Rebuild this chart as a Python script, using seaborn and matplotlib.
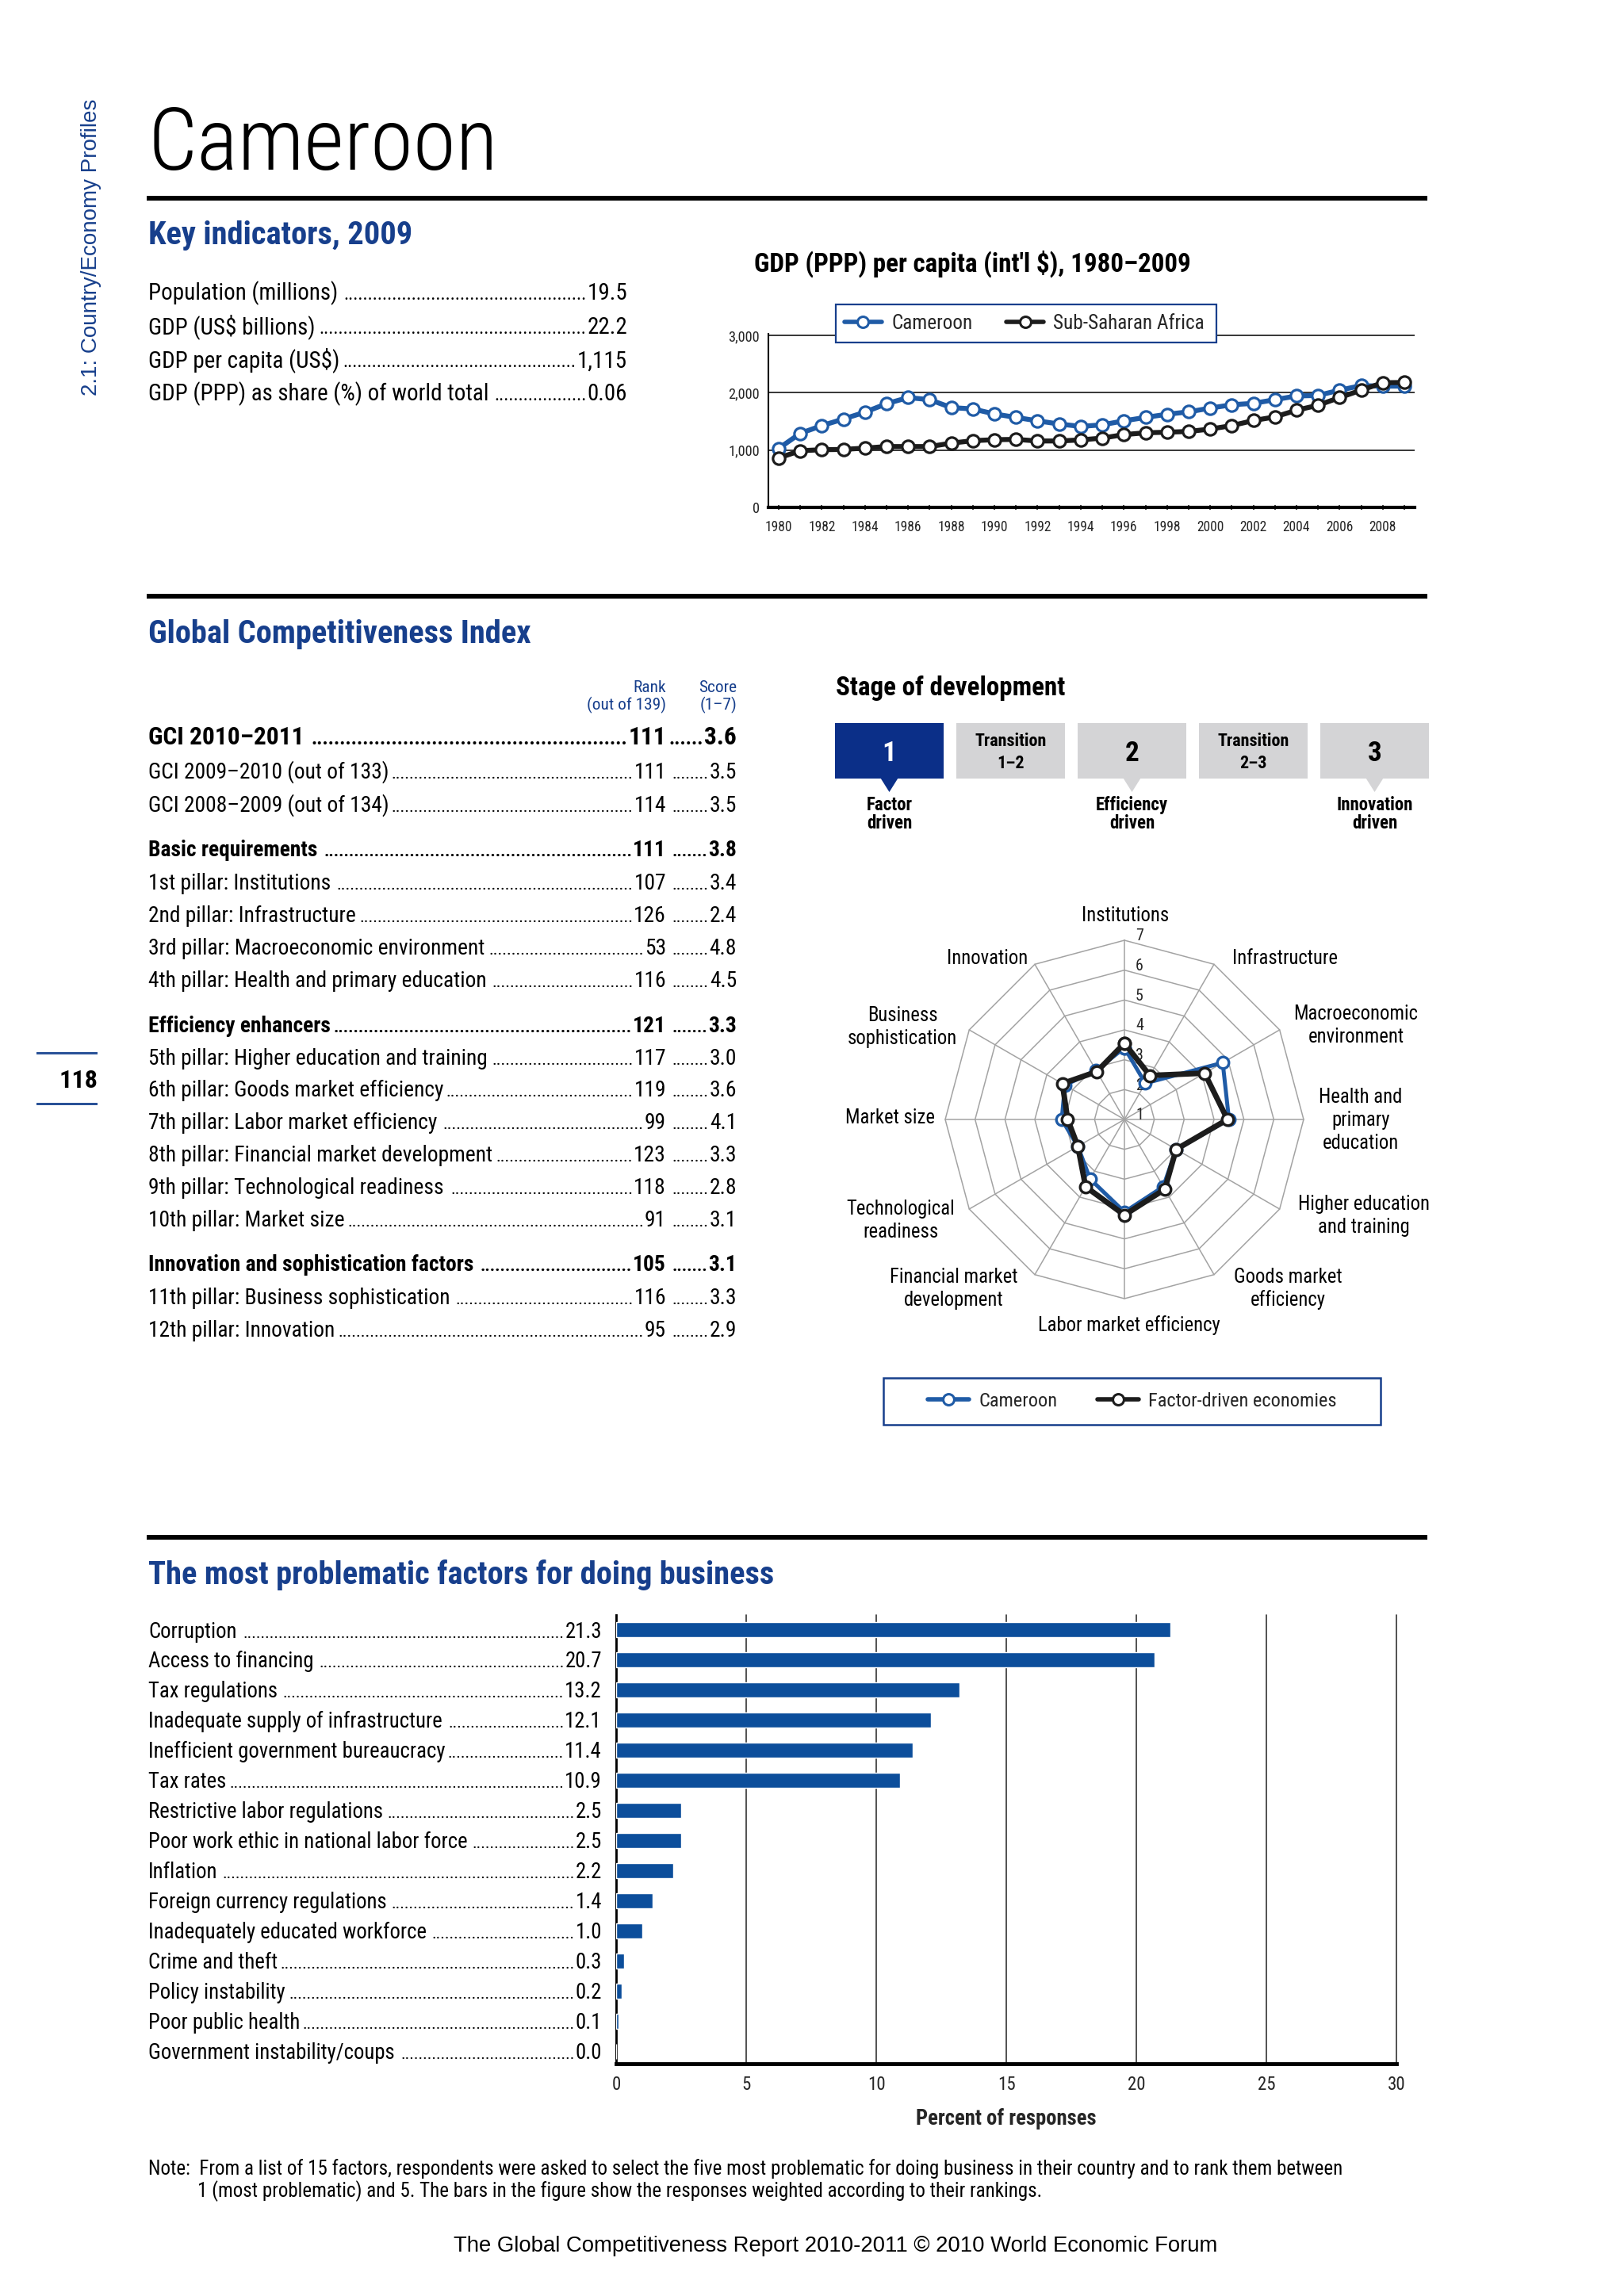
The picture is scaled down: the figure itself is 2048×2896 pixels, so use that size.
import numpy as np
import pandas as pd
import matplotlib
matplotlib.use("Agg")
import matplotlib.pyplot as plt
import seaborn as sns
from matplotlib import font_manager as fm
from matplotlib.patches import Rectangle, Polygon
from matplotlib.lines import Line2D

# ---------------------------------------------------------------- data
country = "Cameroon"
side_caption = "2.1: Country/Economy Profiles"
page_number = "118"

ki_title = "Key indicators, 2009"
ki_labels = ["Population (millions)", "GDP (US$ billions)", "GDP per capita (US$)",
             "GDP (PPP) as share (%) of world total"]
ki_values = ["19.5", "22.2", "1,115", "0.06"]

gdp_title = "GDP (PPP) per capita (int'l $), 1980\u20132009"
gdp_years = list(range(1980, 2010))
gdp_cameroon = [1029, 1292, 1426, 1541, 1661, 1809, 1915, 1878, 1740, 1717,
                1629, 1569, 1509, 1454, 1412, 1440, 1509, 1569, 1624, 1666,
                1731, 1790, 1814, 1878, 1943, 1952, 2044, 2123, 2114, 2115]
gdp_ssa = [863, 988, 1006, 1011, 1034, 1061, 1061, 1061, 1121, 1163,
           1181, 1186, 1158, 1158, 1177, 1209, 1269, 1301, 1311, 1324,
           1366, 1426, 1514, 1578, 1694, 1781, 1915, 2044, 2174, 2178]
gdp_series = ["Cameroon", "Sub-Saharan Africa"]
gdp_yticks = [0, 1000, 2000, 3000]
gdp_yticklabels = ["0", "1,000", "2,000", "3,000"]

gci_title = "Global Competitiveness Index"
gci_head_rank = ["Rank", "(out of 139)"]
gci_head_score = ["Score", "(1\u20137)"]
gci_labels = ["GCI 2010\u20132011", "GCI 2009\u20132010 (out of 133)", "GCI 2008\u20132009 (out of 134)",
              "Basic requirements", "1st pillar: Institutions", "2nd pillar: Infrastructure",
              "3rd pillar: Macroeconomic environment", "4th pillar: Health and primary education",
              "Efficiency enhancers", "5th pillar: Higher education and training",
              "6th pillar: Goods market efficiency", "7th pillar: Labor market efficiency",
              "8th pillar: Financial market development", "9th pillar: Technological readiness",
              "10th pillar: Market size",
              "Innovation and sophistication factors", "11th pillar: Business sophistication",
              "12th pillar: Innovation"]
gci_ranks = ["111", "111", "114", "111", "107", "126", "53", "116", "121", "117", "119",
             "99", "123", "118", "91", "105", "116", "95"]
gci_scores = ["3.6", "3.5", "3.5", "3.8", "3.4", "2.4", "4.8", "4.5", "3.3", "3.0", "3.6",
              "4.1", "3.3", "2.8", "3.1", "3.1", "3.3", "2.9"]
gci_kind = ["top", "row", "row", "bold", "row", "row", "row", "row", "bold", "row", "row",
            "row", "row", "row", "row", "bold", "row", "row"]

stage_title = "Stage of development"
stage_box_text = [["1"], ["Transition", "1\u20132"], ["2"], ["Transition", "2\u20133"], ["3"]]
stage_captions = [["Factor", "driven"], [], ["Efficiency", "driven"], [], ["Innovation", "driven"]]
current_stage = 0

pillars = [["Institutions"], ["Infrastructure"], ["Macroeconomic", "environment"],
           ["Health and", "primary", "education"], ["Higher education", "and training"],
           ["Goods market", "efficiency"], ["Labor market efficiency"],
           ["Financial market", "development"], ["Technological", "readiness"],
           ["Market size"], ["Business", "sophistication"], ["Innovation"]]
cameroon_scores = [3.4, 2.4, 4.8, 4.5, 3.0, 3.6, 4.1, 3.3, 2.8, 3.1, 3.3, 2.9]
factor_scores = [3.55, 2.7, 4.1, 4.45, 3.0, 3.7, 4.2, 3.6, 2.8, 2.9, 3.4, 2.85]
radar_series = ["Cameroon", "Factor-driven economies"]
radar_ticks = [1, 2, 3, 4, 5, 6, 7]

bar_title = "The most problematic factors for doing business"
factor_labels = ["Corruption", "Access to financing", "Tax regulations",
                 "Inadequate supply of infrastructure", "Inefficient government bureaucracy",
                 "Tax rates", "Restrictive labor regulations", "Poor work ethic in national labor force",
                 "Inflation", "Foreign currency regulations", "Inadequately educated workforce",
                 "Crime and theft", "Policy instability", "Poor public health",
                 "Government instability/coups"]
factor_values = [21.3, 20.7, 13.2, 12.1, 11.4, 10.9, 2.5, 2.5, 2.2, 1.4, 1.0, 0.3, 0.2, 0.1, 0.0]
factor_value_text = ["21.3", "20.7", "13.2", "12.1", "11.4", "10.9", "2.5", "2.5", "2.2", "1.4",
                     "1.0", "0.3", "0.2", "0.1", "0.0"]
bar_ticks = [0, 5, 10, 15, 20, 25, 30]
bar_xlabel = "Percent of responses"

note_lines = ["Note:  From a list of 15 factors, respondents were asked to select the five most problematic "
              "for doing business in their country and to rank them between",
              "1 (most problematic) and 5. The bars in the figure show the responses weighted "
              "according to their rankings."]
footer = "The Global Competitiveness Report 2010-2011 \u00a9 2010 World Economic Forum"

# ---------------------------------------------------------------- style
sns.set_style("white")
names = {f.name for f in fm.fontManager.ttflist}
COND = None
for pref in ["Liberation Sans Narrow", "Roboto Condensed", "Open Sans Condensed",
             "Noto Sans Condensed", "DejaVu Sans Condensed", "Arial Narrow"]:
    if pref in names:
        COND = (pref, "normal")
        break
if COND is None:
    for f in fm.fontManager.ttflist:
        if str(f.stretch) in ("condensed", "semi-condensed") and f.name in (
                "Noto Sans", "Roboto", "Open Sans", "DejaVu Sans", "Lato", "Inter"):
            COND = (f.name, str(f.stretch))
            break
if COND is not None:
    BODY = [COND[0], "DejaVu Sans"]
    STRETCH = COND[1]
    K = 1.1
    TITLE_SIZE = 79
else:
    BODY = ["Liberation Sans", "DejaVu Sans"]
    STRETCH = "normal"
    K = 1.0
    TITLE_SIZE = 72
REG = ["Liberation Sans", "DejaVu Sans"]
plt.rcParams["font.family"] = BODY
plt.rcParams["font.stretch"] = STRETCH

BLUE_TXT = "#173f8c"
BLUE_LINE = "#1f5ba6"
NAVY = "#0b2f88"
BAR = "#0c4e9b"
BOXGRAY = "#d4d4d6"
GRID = "#a3a3a3"
DARK = "#1c1c1c"
P = 100 / 72.0

W, H = 2048, 2896
fig = plt.figure(figsize=(W / 100, H / 100), dpi=100)
fig.patch.set_facecolor("white")
pg = fig.add_axes([0, 0, 1, 1])
pg.set_xlim(0, W)
pg.set_ylim(H, 0)
pg.axis("off")
renderer = fig.canvas.get_renderer()


def fax(x0, y0, x1, y1):
    return fig.add_axes([x0 / W, 1 - y1 / H, (x1 - x0) / W, (y1 - y0) / H])


def txt(x, y, s, size, weight="normal", color="black", ha="left", va="baseline", family=None, **kw):
    if family is None:
        family = BODY
        kw.setdefault("fontstretch", STRETCH)
    return pg.text(x, y, s, fontsize=size, fontweight=weight, color=color, ha=ha, va=va,
                   family=family, **kw)


def ctext(x, yc, s, size, **kw):
    return txt(x, yc + 0.358 * size * P, s, size, **kw)


def block(x, yc, lines, size, dy, **kw):
    n = len(lines)
    return [ctext(x, yc + (i - (n - 1) / 2) * dy, ln, size, **kw) for i, ln in enumerate(lines)]


leaders = []


def leader_row(x_left, x_right, yc, label, value, size, weight="normal", extra=None):
    yb = yc + 0.358 * size * P
    tl = txt(x_left, yb, label, size, weight)
    tr = txt(x_right, yb, value, size, weight, ha="right")
    leaders.append((tl, tr, yb, size, weight))
    if extra is not None:
        x_score, score = extra
        ts = txt(x_score, yb, score, size, weight, ha="right")
        leaders.append((tr, ts, yb, size, weight))


def rect(ax_, x, y, w, h, **kw):
    r = Rectangle((x, y), w, h, **kw)
    ax_.add_patch(r)
    return r


SEC = 26.5 * K    # blue section headings
SUB = 21.6 * K    # black bold chart titles

# ---------------------------------------------------------------- header
txt(115, 499, side_caption, 20, color=BLUE_TXT, ha="center", va="bottom", rotation=90, family=REG)
txt(187, 214, country, TITLE_SIZE, weight="light")
rect(pg, 185, 247, 1615, 6, color="black", lw=0)

rect(pg, 46, 1327, 77, 2.5, color="#2a5298", lw=0)
rect(pg, 46, 1391, 77, 2.5, color="#2a5298", lw=0)
ctext(99, 1361, page_number, 21 * K, weight="bold", ha="center")

# ---------------------------------------------------------------- key indicators
txt(187, 308, ki_title, SEC, weight="bold", color=BLUE_TXT)
for lab, val, yc in zip(ki_labels, ki_values, [368, 411, 453, 495]):
    leader_row(187, 791, yc, lab, val, 19 * K)

# ---------------------------------------------------------------- GDP chart
txt(951, 343, gdp_title, SUB, weight="bold")
gax = fax(969, 420.8, 1784, 640)
sns.lineplot(x=gdp_years, y=gdp_cameroon, ax=gax, color=BLUE_LINE, linewidth=4.5, marker="o",
             markersize=11, markerfacecolor="white", markeredgecolor=BLUE_LINE, markeredgewidth=2.3,
             zorder=3)
sns.lineplot(x=gdp_years, y=gdp_ssa, ax=gax, color=DARK, linewidth=4.5, marker="o",
             markersize=11, markerfacecolor="white", markeredgecolor=DARK, markeredgewidth=2.3,
             zorder=4)
gax.set_xlim(1979.52, 2009.48)
gax.set_ylim(0, 3030)
gax.set_yticks(gdp_yticks)
gax.set_yticklabels(gdp_yticklabels, fontsize=12 * K)
gax.set_xticks(gdp_years[::2])
gax.set_xticklabels([str(y) for y in gdp_years[::2]], fontsize=11.5 * K)
gax.set_xticks(gdp_years, minor=True)
gax.tick_params(axis="x", which="both", direction="inout", length=5, width=1.2, pad=9, bottom=True)
gax.tick_params(axis="y", length=0, pad=8)
gax.yaxis.grid(True, color="black", lw=1.1)
gax.xaxis.grid(False)
gax.set_axisbelow(True)
for s in ["top", "right"]:
    gax.spines[s].set_visible(False)
gax.spines["left"].set_linewidth(1.5)
gax.spines["bottom"].set_linewidth(3)
gax.spines["left"].set_color("black")
gax.spines["bottom"].set_color("black")
gax.set_xlabel("")
gax.set_ylabel("")

gdp_handles = [Line2D([], [], color=c, lw=4, marker="o", markersize=10, markerfacecolor="white",
                      markeredgecolor=c, markeredgewidth=2.2) for c in (BLUE_LINE, DARK)]
box = Rectangle((1054, 384), 480, 48, transform=pg.transData, facecolor="white",
                edgecolor=BLUE_TXT, lw=1.6, zorder=5)
fig.add_artist(box)
leg = fig.legend(gdp_handles, gdp_series, loc="center", bbox_to_anchor=(1292 / W, 1 - 408 / H),
                 bbox_transform=fig.transFigure, ncol=2, frameon=False, fontsize=16.5 * K,
                 handlelength=1.85, handletextpad=0.5, columnspacing=1.7, borderpad=0)
leg.set_zorder(6)

# ---------------------------------------------------------------- GCI section
rect(pg, 185, 749, 1615, 6, color="black", lw=0)
txt(187, 811, gci_title, SEC, weight="bold", color=BLUE_TXT)
for ln, yc in zip(gci_head_rank, [865, 888]):
    ctext(840, yc, ln, 14 * K, color=BLUE_TXT, ha="right")
for ln, yc in zip(gci_head_score, [865, 888]):
    ctext(929, yc, ln, 14 * K, color=BLUE_TXT, ha="right")

gci_y = [928, 972, 1014, 1070, 1112, 1153, 1194, 1235, 1292, 1333, 1373, 1414, 1455, 1496, 1537,
         1593, 1635, 1676]
for lab, rk, sc, kind, yc in zip(gci_labels, gci_ranks, gci_scores, gci_kind, gci_y):
    if kind == "top":
        leader_row(187, 840, yc, lab, rk, 20.5 * K, "bold", extra=(929, sc))
    elif kind == "bold":
        leader_row(187, 840, yc, lab, rk, 18 * K, "bold", extra=(929, sc))
    else:
        leader_row(187, 840, yc, lab, rk, 18 * K, "normal", extra=(929, sc))

# ---------------------------------------------------------------- stage of development
txt(1054, 877, stage_title, SUB, weight="bold")
bx0, bw, bstep, by0, bh = 1053, 137, 153, 912, 70
for i, (lines, cap) in enumerate(zip(stage_box_text, stage_captions)):
    x = bx0 + i * bstep
    cx = x + bw / 2
    fc = NAVY if i == current_stage else BOXGRAY
    tc = "white" if i == current_stage else "black"
    rect(pg, x, by0, bw, bh, facecolor=fc, edgecolor="none")
    if len(lines) == 1:
        ctext(cx, by0 + bh / 2, lines[0], 23 * K, weight="bold", color=tc, ha="center")
    else:
        block(cx, by0 + bh / 2, lines, 14.5 * K, 28, weight="bold", color=tc, ha="center")
    if cap:
        pg.add_patch(Polygon([(cx - 11, by0 + bh - 0.5), (cx + 11, by0 + bh - 0.5), (cx, 999)],
                             closed=True, facecolor=fc, edgecolor="none"))
        block(cx, 1025.5, cap, 15 * K, 23, weight="bold", ha="center")

# ---------------------------------------------------------------- radar
RX, RY, RR = 1418, 1412, 226
u = RR / 6.0
half = 262
rax = fax(RX - half, RY - half, RX + half, RY + half)
n = len(pillars)
theta = np.pi / 2 - np.arange(n) * 2 * np.pi / n
ring_theta = np.append(theta, theta[0])
for k in range(1, 7):
    rax.plot(k * np.cos(ring_theta), k * np.sin(ring_theta), color=GRID, lw=1.1, zorder=1)
for t in theta:
    rax.plot([0, 6 * np.cos(t)], [0, 6 * np.sin(t)], color=GRID, lw=1.1, zorder=1)
for v in radar_ticks:
    rax.text(0.5, v - 1 + 0.14, str(v), fontsize=13 * K, ha="center", va="center", zorder=2,
             family=BODY, fontstretch=STRETCH)


def radar_xy(scores):
    r = np.asarray(scores, dtype=float) - 1
    r = np.append(r, r[0])
    return r * np.cos(ring_theta), r * np.sin(ring_theta)


for scores, col, lw in [(cameroon_scores, BLUE_LINE, 3.6), (factor_scores, DARK, 5.0)]:
    xs, ys = radar_xy(scores)
    sns.lineplot(x=xs, y=ys, sort=False, estimator=None, ax=rax, color=col, linewidth=lw,
                 marker="o", markersize=10.5, markerfacecolor="white", markeredgecolor=col,
                 markeredgewidth=2.4, zorder=3)
lim = half / u
rax.set_xlim(-lim, lim)
rax.set_ylim(-lim, lim)
rax.axis("off")

radar_label_pos = [(1419, 1153), (1620, 1207), (1710, 1292), (1716, 1411), (1720, 1532),
                   (1624, 1624), (1424, 1670), (1203, 1624), (1136, 1538), (1122, 1408),
                   (1138, 1294), (1245, 1207)]
for lines, (lx, ly) in zip(pillars, radar_label_pos):
    block(lx, ly, lines, 16.1 * K, 29, ha="center")

rect(pg, 1114, 1738, 627, 59, facecolor="none", edgecolor=BLUE_TXT, lw=1.8)
radar_handles = [Line2D([], [], color=c, lw=4, marker="o", markersize=10, markerfacecolor="white",
                        markeredgecolor=c, markeredgewidth=2.2) for c in (BLUE_LINE, DARK)]
fig.legend(radar_handles, radar_series, loc="center", bbox_to_anchor=(1428 / W, 1 - 1767 / H),
           bbox_transform=fig.transFigure, ncol=2, frameon=False, fontsize=16 * K,
           handlelength=2.1, handletextpad=0.5, columnspacing=2.1, borderpad=0)

# ---------------------------------------------------------------- bar chart
rect(pg, 185, 1936, 1615, 6, color="black", lw=0)
txt(187, 1998, bar_title, SEC, weight="bold", color=BLUE_TXT)
bax = fax(777, 2037, 1761, 2603)
df = pd.DataFrame({"factor": factor_labels, "value": factor_values})
sns.barplot(data=df, x="value", y="factor", orient="h", color=BAR, saturation=1, width=0.5,
            ax=bax, zorder=3)
bax.set_xlim(0, 30)
bax.set_ylim(len(factor_labels) - 1 + 0.42, -0.5)
bax.set_xticks(bar_ticks)
bax.set_xticklabels([str(t) for t in bar_ticks], fontsize=15 * K)
bax.tick_params(axis="x", length=0, pad=11)
bax.tick_params(axis="y", length=0, labelleft=False)
bax.set_ylabel("")
bax.set_xlabel(bar_xlabel, fontsize=17.4 * K, fontweight="bold", labelpad=13)
bax.xaxis.grid(True, color="#333333", lw=1.2)
bax.yaxis.grid(False)
bax.set_axisbelow(True)
for gl in bax.get_xgridlines():
    gl.set_clip_on(False)
for s in ["top", "right"]:
    bax.spines[s].set_visible(False)
bax.spines["left"].set_linewidth(2)
bax.spines["left"].set_color("black")
bax.spines["bottom"].set_linewidth(3.5)
bax.spines["bottom"].set_color("black")

for i, (lab, vt) in enumerate(zip(factor_labels, factor_value_text)):
    yc = H - bax.transData.transform((0, i))[1]
    leader_row(187, 759, yc, lab, vt, 17.5 * K)

# ---------------------------------------------------------------- note & footer
n1 = ctext(187, 2734, note_lines[0], 15 * K)
w1 = n1.get_window_extent(renderer).width
n1.set_fontsize(n1.get_fontsize() * 1503 / w1)
note_size = n1.get_fontsize()
n1.set_y(2734 + 0.358 * note_size * P)
ctext(249, 2762, note_lines[1], note_size)

ft = ctext(1054, 2830, footer, 19, ha="center", family=REG)
wf = ft.get_window_extent(renderer).width
ft.set_fontsize(ft.get_fontsize() * 966 / wf)
ft.set_y(2830 + 0.358 * ft.get_fontsize() * P)

# ---------------------------------------------------------------- dot leaders
_dot_cache = {}


def dot_w(size, weight):
    key = (round(size, 3), weight)
    if key not in _dot_cache:
        t = txt(0, 0, "." * 60, size, weight)
        _dot_cache[key] = t.get_window_extent(renderer).width / 60.0
        t.remove()
    return _dot_cache[key]


for tl, tr, yb, size, weight in leaders:
    x0 = tl.get_window_extent(renderer).x1 + 3
    x1 = tr.get_window_extent(renderer).x0 - 1
    ds = size * 0.8
    cnt = int((x1 - x0) / dot_w(ds, weight))
    if cnt > 0:
        txt(x1, yb, "." * cnt, ds, weight, ha="right")

fig.savefig("out.png", dpi=100, facecolor="white")
